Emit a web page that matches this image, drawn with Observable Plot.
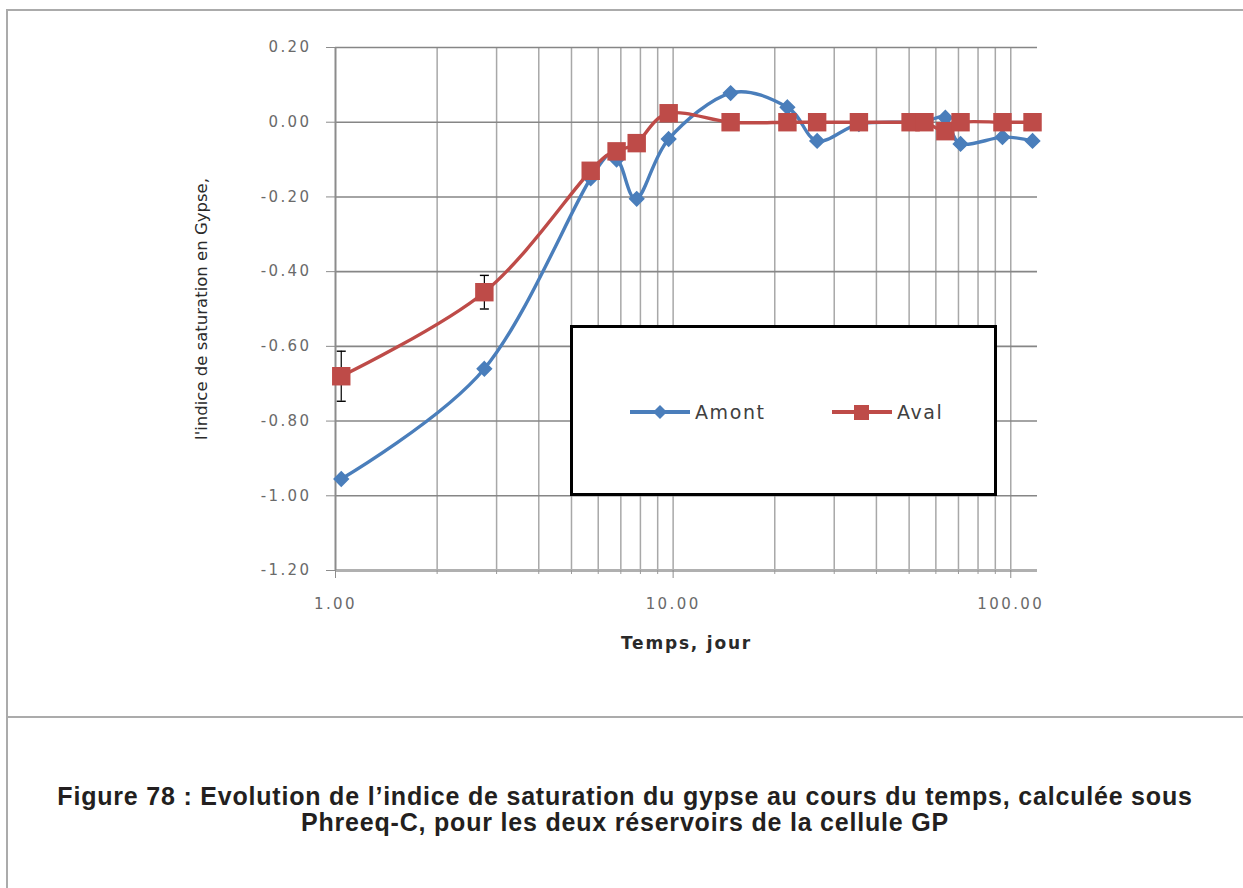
<!DOCTYPE html>
<html>
<head>
<meta charset="utf-8">
<script src="https://cdn.jsdelivr.net/npm/d3@7"></script>
<script src="https://cdn.jsdelivr.net/npm/@observablehq/plot@0.6"></script>
<style>
  html, body { margin: 0; padding: 0; background: #fff; }
  #page { position: relative; width: 1243px; height: 888px; overflow: hidden; background: #fff; }
  #frame { position: absolute; left: 6px; top: 9px; width: 1300px; height: 1000px;
           border-left: 2px solid #ababab; border-top: 2px solid #ababab; }
  #divider { position: absolute; left: 6px; top: 716px; width: 1300px; height: 2px; background: #ababab; }
  #chart { position: absolute; left: 0; top: 0; }
  #legend { position: absolute; left: 570px; top: 325px; width: 421px; height: 165px;
            border: 3px solid #000; background: #fff; }
  .item { position: absolute; top: 71px; height: 26px; display: flex; align-items: center;
          font-family: "DejaVu Sans", sans-serif; font-size: 19px; color: #404040; letter-spacing: 1.6px; }
  #caption { position: absolute; left: 6px; width: 1238px; top: 783px; text-align: center;
             font-family: "Liberation Sans", Arial, sans-serif; font-weight: bold; font-size: 25px;
             letter-spacing: 0.8px; line-height: 26px; color: #231f20; }
  #chart .ytl text { letter-spacing: 2.4px; }
  #chart .xtl text { letter-spacing: 2.4px; }
</style>
</head>
<body>
<div id="page">
  <div id="frame"></div>
  <div id="divider"></div>
  <div id="chart"></div>
  <div id="legend"></div>
  <div id="caption">Figure 78 : Evolution de l’indice de saturation du gypse au cours du temps, calculée sous<br>Phreeq-C, pour les deux réservoirs de la cellule GP</div>
</div>
<script>
// ---- Data ----
const times  = [1.04, 2.76, 5.7, 6.8, 7.8, 9.7, 14.8, 21.8, 26.7, 35.5, 50.5, 55.5, 64, 71, 94.5, 116];
const amont  = [-0.955, -0.66, -0.15, -0.10, -0.205, -0.045, 0.078, 0.04, -0.05, -0.005, 0.0, 0.0, 0.012, -0.058, -0.04, -0.05];
const aval   = [-0.68, -0.455, -0.13, -0.078, -0.056, 0.024, 0.0, 0.0, 0.0, 0.0, 0.0, 0.0, -0.024, 0.0, 0.0, 0.0];
const errTimes = [1.04, 2.76];
const errMid   = [-0.68, -0.455];
const errHalf  = [0.067, 0.045];
const yTicks = [0.2, 0.0, -0.2, -0.4, -0.6, -0.8, -1.0, -1.2];
const xMajor = [1, 10, 100];
const xMinor = [2, 3, 4, 5, 6, 7, 8, 9, 20, 30, 40, 50, 60, 70, 80, 90];
const seriesNames = ["Amont", "Aval"];
const colors = ["#4a7ebb", "#be4b48"];
const yLabel = "l'indice de saturation en Gypse,";
const xLabel = "Temps, jour";

const amontData = times.map((t, i) => ({t, v: amont[i]}));
const avalData = times.map((t, i) => ({t, v: aval[i]}));
const errData = errTimes.map((t, i) => ({t, lo: errMid[i] - errHalf[i], hi: errMid[i] + errHalf[i]}));

const cap = {draw(ctx) { ctx.moveTo(-4.5, 0); ctx.lineTo(4.5, 0); }};

const chart = Plot.plot({
  width: 1243, height: 700,
  marginLeft: 335, marginRight: 206, marginTop: 47, marginBottom: 130,
  x: {type: "log", domain: [1, 120]},
  y: {domain: [-1.2, 0.2]},
  style: {fontFamily: "'DejaVu Sans', sans-serif", fontSize: "15px", color: "#595959", background: "transparent", overflow: "visible"},
  marks: [
    Plot.gridX([...xMinor, 10, 100], {stroke: "#a8a8a8", strokeOpacity: 1, strokeWidth: 1.5}),
    Plot.gridY(yTicks, {stroke: "#868686", strokeOpacity: 1, strokeWidth: 1.6}),
    Plot.ruleY([-1.2], {stroke: "#b0b0b0", strokeWidth: 3}),
    Plot.ruleX([1], {stroke: "#8c8c8c", strokeWidth: 2}),
    Plot.axisY(yTicks, {tickFormat: d => d.toFixed(2), tickSize: 9, tickPadding: 15, stroke: "#8c8c8c", fill: "#6a6a6a", label: null}),
    Plot.axisX(xMajor, {tickFormat: d => d.toFixed(2), tickSize: 8, tickPadding: 20, stroke: "#8c8c8c", fill: "#6a6a6a", label: null}),
    Plot.axisX(xMinor, {tickFormat: () => "", tickSize: 4, stroke: "#9a9a9a", label: null}),
    Plot.text([yLabel], {frameAnchor: "left", textAnchor: "middle", dx: -134, rotate: -90, fill: "#2a2a2a", fontSize: 16.5}),
    Plot.text([xLabel], {frameAnchor: "bottom", dy: 78, fill: "#2a2a2a", fontSize: 17, fontWeight: "bold"}),
    Plot.line(amontData, {x: "t", y: "v", stroke: colors[0], strokeWidth: 3.4, curve: "cardinal"}),
    Plot.dot(amontData, {x: "t", y: "v", symbol: "diamond2", r: 6.4, fill: colors[0], stroke: colors[0]}),
    Plot.line(avalData, {x: "t", y: "v", stroke: colors[1], strokeWidth: 3.4, curve: "cardinal"}),
    Plot.ruleX(errData, {x: "t", y1: "lo", y2: "hi", stroke: "#000", strokeWidth: 1.2}),
    Plot.dot(errData, {x: "t", y: "lo", symbol: cap, r: 4, stroke: "#000", strokeWidth: 1.4}),
    Plot.dot(errData, {x: "t", y: "hi", symbol: cap, r: 4, stroke: "#000", strokeWidth: 1.4}),
    Plot.dot(avalData, {x: "t", y: "v", symbol: "square", r: 10.4, fill: colors[1], stroke: "none"})
  ]
});
document.getElementById("chart").appendChild(chart);

// letter spacing for tick labels and x title
chart.querySelectorAll("g[aria-label='y-axis tick label']").forEach(g => g.classList.add("ytl"));
chart.querySelectorAll("g[aria-label='x-axis tick label']").forEach(g => g.classList.add("xtl"));
chart.querySelectorAll("text").forEach(t => {
  if (t.textContent === xLabel) t.style.letterSpacing = "1.8px";
});

// Legend
const legend = document.getElementById("legend");
const items = [
  {name: seriesNames[0], color: colors[0], left: 57, marker: '<path d="M30,3 L37,10 L30,17 L23,10 Z"/>'},
  {name: seriesNames[1], color: colors[1], left: 259, marker: '<rect x="22" y="3" width="15" height="15"/>'}
];
items.forEach(it => {
  const d = document.createElement("div");
  d.className = "item";
  d.style.left = it.left + "px";
  d.innerHTML = `<svg width="62" height="20" style="margin-right:3px"><line x1="0" x2="60" y1="10" y2="10" stroke="${it.color}" stroke-width="4"/><g fill="${it.color}">${it.marker}</g></svg><span>${it.name}</span>`;
  legend.appendChild(d);
});
</script>
</body>
</html>
